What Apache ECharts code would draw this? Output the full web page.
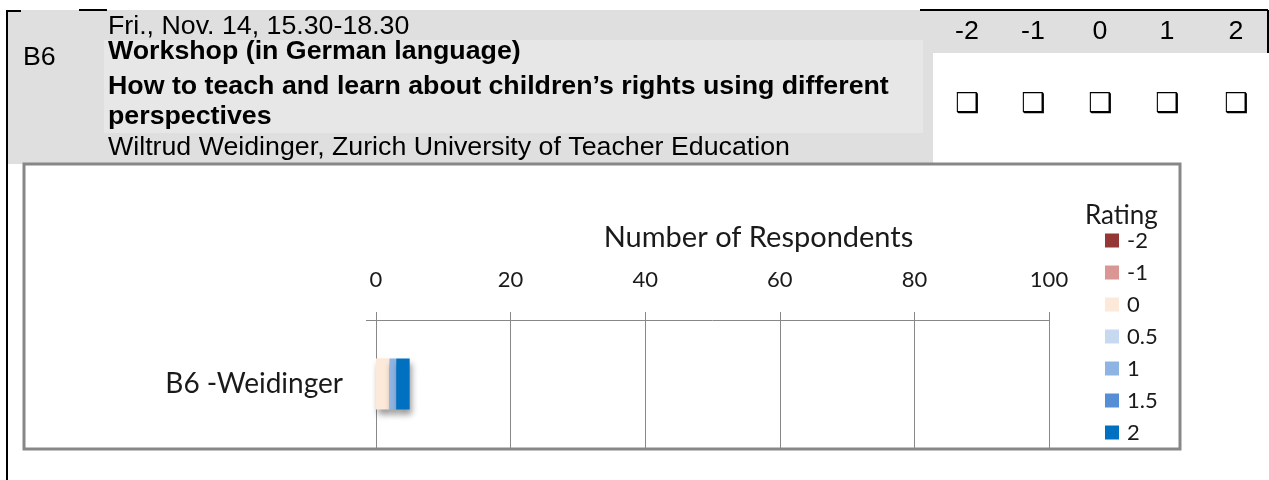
<!DOCTYPE html>
<html>
<head>
<meta charset="utf-8">
<script src="https://cdn.jsdelivr.net/npm/echarts@6/dist/echarts.min.js"></script>
<style>
html,body{margin:0;padding:0;background:#fff;}
#chart{width:1269px;height:480px;}
</style>
</head>
<body>
<div id="chart"></div>
<script>
// ---- data ----
const categories = ['B6 -Weidinger'];
const ratings = ['-2', '-1', '0', '0.5', '1', '1.5', '2'];
const countsM2 = [0];
const countsM1 = [0];
const counts0 = [2];
const counts05 = [0];
const counts1 = [1];
const counts15 = [0];
const counts2 = [2];
const xTicks = [0, 20, 40, 60, 80, 100];
const axisTitle = 'Number of Respondents';
const legendTitle = 'Rating';
const headerColumns = ['-2', '-1', '0', '1', '2'];
const headerId = 'B6';
const headerLines = [
  'Fri., Nov. 14, 15.30-18.30',
  'Workshop (in German language)',
  'How to teach and learn about children\u2019s rights using different',
  'perspectives',
  'Wiltrud Weidinger, Zurich University of Teacher Education'
];

// ---- styles ----
const seriesValues = [countsM2, countsM1, counts0, counts05, counts1, counts15, counts2];
const ratingColors = ['#953735', '#d99694', '#fde9d9', '#c6d9f1', '#8db4e2', '#558ed5', '#0070c0'];
const arial = '"Liberation Sans", Arial, sans-serif';
const calibri = 'Lato, "Open Sans", sans-serif';
const hdrSize = 25;
const hdrScaleX = 1.07;
const hdrMid = 0.31 * hdrSize;

const chart = echarts.init(document.getElementById('chart'), null, {renderer: 'canvas'});

const headerBaselines = [35, 60, 95, 125, 156];
const headerBold = [false, true, true, true, false];
const colX = [967, 1033, 1100, 1167, 1236];

const graphics = [
  // header backgrounds
  {type: 'rect', shape: {x: 7, y: 10, width: 926, height: 154}, style: {fill: '#dfdfdf'}, z: -10},
  {type: 'rect', shape: {x: 933, y: 10, width: 335, height: 43}, style: {fill: '#dfdfdf'}, z: -10},
  {type: 'rect', shape: {x: 104, y: 40, width: 819, height: 93}, style: {fill: '#e7e7e7'}, z: -9},
  // black borders
  {type: 'line', shape: {x1: 7, y1: 10, x2: 7, y2: 480}, style: {stroke: '#000', lineWidth: 2}},
  {type: 'line', shape: {x1: 6, y1: 11, x2: 21, y2: 11}, style: {stroke: '#000', lineWidth: 2}},
  {type: 'line', shape: {x1: 79, y1: 10, x2: 107, y2: 10}, style: {stroke: '#000', lineWidth: 2}},
  {type: 'line', shape: {x1: 920, y1: 10, x2: 1268, y2: 10}, style: {stroke: '#000', lineWidth: 2}},
  {type: 'line', shape: {x1: 1268, y1: 10, x2: 1268, y2: 53}, style: {stroke: '#000', lineWidth: 2}},
  // chart frame
  {type: 'rect', shape: {x: 24, y: 164, width: 1156, height: 285}, style: {fill: 'none', stroke: '#878787', lineWidth: 3}, z: 20},
  {type: 'rect', shape: {x: 24, y: 164, width: 1156, height: 285}, style: {fill: '#fff'}, z: -8},
  // header id
  {type: 'text', x: 23, y: 66 - hdrMid, scaleX: hdrScaleX,
    style: {text: headerId, font: hdrSize + 'px ' + arial, fill: '#000', verticalAlign: 'middle'}}
];
headerLines.forEach((t, i) => {
  graphics.push({type: 'text', x: 108, y: headerBaselines[i] - hdrMid, scaleX: hdrScaleX,
    style: {text: t, font: (headerBold[i] ? 'bold ' : '') + hdrSize + 'px ' + arial, fill: '#000', verticalAlign: 'middle'}});
});
headerColumns.forEach((t, i) => {
  graphics.push({type: 'text', x: colX[i], y: 40 - hdrMid, scaleX: hdrScaleX,
    style: {text: t, font: hdrSize + 'px ' + arial, fill: '#000', align: 'center', verticalAlign: 'middle'}});
  graphics.push({type: 'text', x: colX[i], y: 105,
    style: {text: '\u2751', font: 'bold 27px "DejaVu Sans"', fill: '#000', align: 'center', verticalAlign: 'middle'}});
});

const series = ratings.map((r, i) => ({
  name: r,
  type: 'bar',
  stack: 'total',
  barWidth: 51,
  data: seriesValues[i],
  itemStyle: {
    color: ratingColors[i],
    shadowColor: 'rgba(0,0,0,0.4)',
    shadowBlur: 6,
    shadowOffsetX: 2,
    shadowOffsetY: 5
  },
  emphasis: {disabled: true}
}));

chart.setOption({
  animation: false,
  backgroundColor: 'transparent',
  graphic: graphics,
  title: {
    text: legendTitle,
    left: 1085,
    top: 203,
    textStyle: {fontFamily: calibri, fontSize: 26, fontWeight: 'normal', color: '#1a1a1a'},
    padding: 0
  },
  legend: {
    orient: 'vertical',
    left: 1105,
    top: 229.5,
    itemWidth: 14,
    itemHeight: 14,
    itemGap: 10,
    icon: 'rect',
    padding: 0,
    data: ratings,
    textStyle: {fontFamily: calibri, fontSize: 22, color: '#1a1a1a', padding: [0, 0, 0, 3]}
  },
  grid: {left: 376, right: 220, top: 320, bottom: 32, containLabel: false},
  xAxis: {
    type: 'value',
    position: 'top',
    min: xTicks[0],
    max: xTicks[xTicks.length - 1],
    interval: xTicks[1] - xTicks[0],
    name: axisTitle,
    nameLocation: 'middle',
    nameGap: 68,
    nameTextStyle: {fontFamily: calibri, fontSize: 29, color: '#1a1a1a', padding: [0, 0, 0, 92]},
    axisLine: {show: true, lineStyle: {color: '#888', width: 1}},
    axisTick: {show: true, length: 8, lineStyle: {color: '#888'}},
    axisLabel: {fontFamily: calibri, fontSize: 22, color: '#1a1a1a', margin: 29},
    splitLine: {show: true, lineStyle: {color: '#888', width: 1}}
  },
  yAxis: {
    type: 'category',
    data: categories,
    axisLine: {show: true, lineStyle: {color: '#888', width: 1}},
    axisTick: {show: true, length: 10, lineStyle: {color: '#888'}},
    axisLabel: {fontFamily: calibri, fontSize: 28, color: '#1a1a1a', margin: 33, padding: [4, 0, 0, 0]}
  },
  series: series
});
</script>
</body>
</html>
